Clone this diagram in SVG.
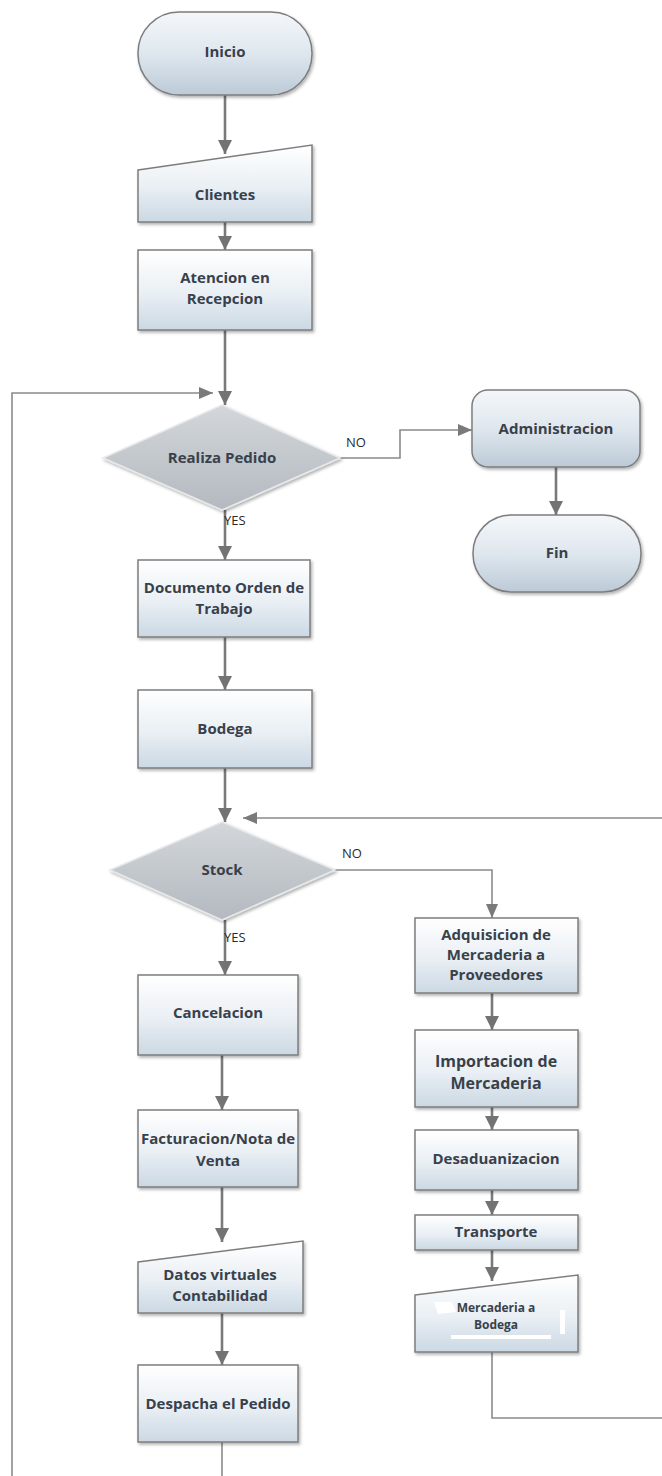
<svg xmlns="http://www.w3.org/2000/svg" width="662" height="1476" viewBox="0 0 662 1476">
  <defs>
    <linearGradient id="boxFill" x1="0" y1="0" x2="0" y2="1">
      <stop offset="0" stop-color="#ffffff"/>
      <stop offset="0.55" stop-color="#e9eff4"/>
      <stop offset="1" stop-color="#cbd8e3"/>
    </linearGradient>
    <linearGradient id="termFill" x1="0" y1="0" x2="0" y2="1">
      <stop offset="0" stop-color="#f4f7fa"/>
      <stop offset="0.5" stop-color="#dfe7ee"/>
      <stop offset="1" stop-color="#bccad7"/>
    </linearGradient>
    <linearGradient id="diaFill" x1="0" y1="0" x2="0" y2="1">
      <stop offset="0" stop-color="#d3d7db"/>
      <stop offset="1" stop-color="#b3b9bf"/>
    </linearGradient>
    <filter id="shadow" x="-10%" y="-10%" width="125%" height="130%">
      <feDropShadow dx="1.5" dy="2" stdDeviation="1.5" flood-color="#000" flood-opacity="0.3"/>
    </filter>
    <!-- fixed-size filled arrowhead, independent of stroke width -->
    <marker id="arrow" viewBox="0 0 14 14" refX="14" refY="7" markerWidth="14" markerHeight="14" orient="auto" markerUnits="userSpaceOnUse">
      <path d="M0,0 L14,7 L0,14 z" fill="#737373"/>
    </marker>
    <marker id="arrowS" viewBox="0 0 14 12" refX="14" refY="6" markerWidth="14" markerHeight="12" orient="auto" markerUnits="userSpaceOnUse">
      <path d="M0,0 L14,6 L0,12 z" fill="#7a7a7a"/>
    </marker>
  </defs>
  <style>
    .box { fill: url(#boxFill); stroke: #7d7d7d; stroke-width: 1.5; filter: url(#shadow); }
    .term { fill: url(#termFill); stroke: #7d7d7d; stroke-width: 1.5; filter: url(#shadow); }
    .dia { fill: url(#diaFill); stroke: #e6e8ea; stroke-width: 1.5; filter: url(#shadow); }
    .lbl { font-family: "Open Sans", "Noto Sans", sans-serif; font-weight: bold; font-size: 15px; fill: #38414b; text-anchor: middle; dominant-baseline: middle; }
    .big { font-size: 16px; }
    .small { font-size: 12px; }
    .edge { font-family: "Open Sans", "Noto Sans", sans-serif; font-size: 13px; fill: #2a2a2a; }
    .wire { fill: none; stroke: #7a7a7a; stroke-width: 2.6; }
    .thin { fill: none; stroke: #8a8a8a; stroke-width: 1.6; }
  </style>

  <rect width="662" height="1476" fill="#ffffff"/>

  <!-- connectors -->
  <g id="connectors">
    <line class="wire" x1="225" y1="95" x2="225" y2="154" marker-end="url(#arrow)"/>
    <line class="wire" x1="225" y1="222" x2="225" y2="250" marker-end="url(#arrow)"/>
    <line class="wire" x1="225" y1="330" x2="225" y2="405" marker-end="url(#arrow)"/>
    <polyline class="thin" points="12,1476 12,393 213,393" marker-end="url(#arrowS)"/>
    <polyline class="thin" points="340,458 400,458 400,430 472,430" marker-end="url(#arrowS)"/>
    <line class="wire" x1="556" y1="467" x2="556" y2="515" marker-end="url(#arrow)"/>
    <line class="wire" x1="225" y1="510" x2="225" y2="560" marker-end="url(#arrow)"/>
    <line class="wire" x1="225" y1="637" x2="225" y2="690" marker-end="url(#arrow)"/>
    <line class="wire" x1="225" y1="768" x2="225" y2="822" marker-end="url(#arrow)"/>
    <polyline class="thin" points="662,818 243,818" marker-end="url(#arrowS)"/>
    <polyline class="thin" points="335,870 492,870 492,918" marker-end="url(#arrowS)"/>
    <line class="wire" x1="225" y1="920" x2="225" y2="975" marker-end="url(#arrow)"/>
    <line class="wire" x1="492" y1="993" x2="492" y2="1030" marker-end="url(#arrow)"/>
    <line class="wire" x1="492" y1="1107" x2="492" y2="1130" marker-end="url(#arrow)"/>
    <line class="wire" x1="492" y1="1190" x2="492" y2="1215" marker-end="url(#arrow)"/>
    <line class="wire" x1="492" y1="1250" x2="492" y2="1281" marker-end="url(#arrow)"/>
    <polyline class="thin" points="492,1352 492,1418 662,1418"/>
    <line class="wire" x1="222" y1="1055" x2="222" y2="1110" marker-end="url(#arrow)"/>
    <line class="wire" x1="222" y1="1187" x2="222" y2="1242" marker-end="url(#arrow)"/>
    <line class="wire" x1="222" y1="1313" x2="222" y2="1365" marker-end="url(#arrow)"/>
    <line class="thin" x1="222" y1="1442" x2="222" y2="1476"/>
    <text class="edge" x="346" y="447">NO</text>
    <text class="edge" x="224" y="525">YES</text>
    <text class="edge" x="342" y="858">NO</text>
    <text class="edge" x="224" y="942">YES</text>
  </g>

  <g id="inicio">
    <rect class="term" x="138" y="12" width="174" height="83" rx="41" ry="41"/>
    <text class="lbl" x="225" y="53">Inicio</text>
  </g>
  <g id="clientes">
    <polygon class="box" points="138,170 312,145 312,222 138,222"/>
    <text class="lbl" x="225" y="196">Clientes</text>
  </g>
  <g id="atencion">
    <rect class="box" x="138" y="250" width="174" height="80"/>
    <text class="lbl" x="225" y="279">Atencion en</text>
    <text class="lbl" x="225" y="300">Recepcion</text>
  </g>
  <g id="realiza-pedido">
    <polygon class="dia" points="222,405 340,458 222,510 103,458"/>
    <text class="lbl" x="222" y="459">Realiza Pedido</text>
  </g>
  <g id="administracion">
    <rect class="term" x="472" y="390" width="168" height="77" rx="16" ry="16"/>
    <text class="lbl" x="556" y="430">Administracion</text>
  </g>
  <g id="fin">
    <rect class="term" x="473" y="515" width="168" height="77" rx="38" ry="38"/>
    <text class="lbl" x="557" y="554">Fin</text>
  </g>
  <g id="documento">
    <rect class="box" x="138" y="560" width="172" height="77"/>
    <text class="lbl" x="224" y="589">Documento Orden de</text>
    <text class="lbl" x="224" y="610">Trabajo</text>
  </g>
  <g id="bodega">
    <rect class="box" x="138" y="690" width="174" height="78"/>
    <text class="lbl" x="225" y="730">Bodega</text>
  </g>
  <g id="stock">
    <polygon class="dia" points="222,822 335,870 222,920 110,870"/>
    <text class="lbl" x="222" y="871">Stock</text>
  </g>
  <g id="adquisicion">
    <rect class="box" x="415" y="918" width="163" height="75"/>
    <text class="lbl" x="496" y="936">Adquisicion de</text>
    <text class="lbl" x="496" y="956">Mercaderia a</text>
    <text class="lbl" x="496" y="976">Proveedores</text>
  </g>
  <g id="importacion">
    <rect class="box" x="415" y="1030" width="163" height="77"/>
    <text class="lbl big" x="496" y="1063">Importacion de</text>
    <text class="lbl big" x="496" y="1085">Mercaderia</text>
  </g>
  <g id="desaduanizacion">
    <rect class="box" x="415" y="1130" width="163" height="60"/>
    <text class="lbl" x="496" y="1160">Desaduanizacion</text>
  </g>
  <g id="transporte">
    <rect class="box" x="415" y="1215" width="163" height="35"/>
    <text class="lbl" x="496" y="1233">Transporte</text>
  </g>
  <g id="mercaderia-bodega">
    <polygon class="box" points="415,1295 578,1275 578,1352 415,1352"/>
    <path d="M434,1302 h18 l4,10 l-18,2 z" fill="#ffffff"/>
    <rect x="560" y="1310" width="5" height="24" fill="#ffffff"/>
    <rect x="451" y="1335" width="100" height="4" fill="#ffffff"/>
    <text class="lbl small" x="496" y="1309">Mercaderia a</text>
    <text class="lbl small" x="496" y="1326">Bodega</text>
  </g>
  <g id="cancelacion">
    <rect class="box" x="138" y="975" width="160" height="80"/>
    <text class="lbl" x="218" y="1014">Cancelacion</text>
  </g>
  <g id="facturacion">
    <rect class="box" x="138" y="1110" width="160" height="77"/>
    <text class="lbl" x="218" y="1140">Facturacion/Nota de</text>
    <text class="lbl" x="218" y="1162">Venta</text>
  </g>
  <g id="datos-virtuales">
    <polygon class="box" points="138,1262 303,1241 303,1313 138,1313"/>
    <text class="lbl" x="220" y="1276">Datos virtuales</text>
    <text class="lbl" x="220" y="1297">Contabilidad</text>
  </g>
  <g id="despacha">
    <rect class="box" x="138" y="1365" width="160" height="77"/>
    <text class="lbl" x="218" y="1405">Despacha el Pedido</text>
  </g>
</svg>
